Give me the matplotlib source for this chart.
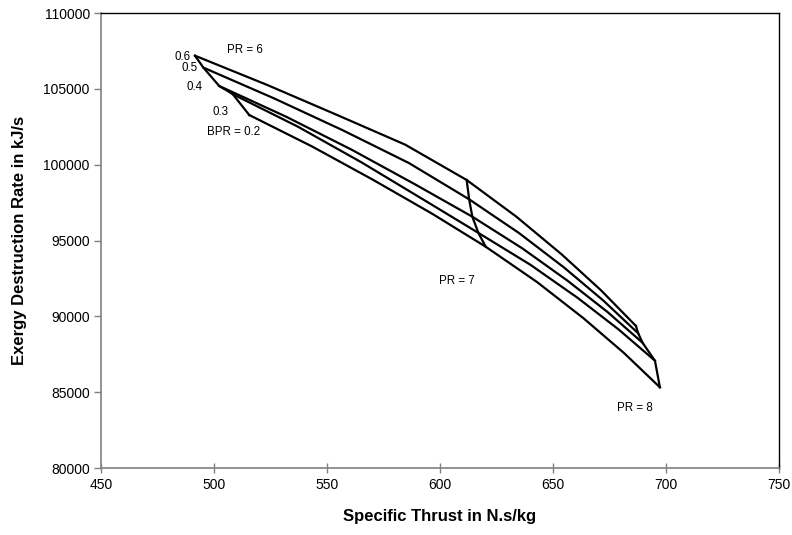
import matplotlib
matplotlib.use("Agg")
import matplotlib.pyplot as plt

plt.rcParams['font.family'] = ['Liberation Sans', 'DejaVu Sans']

# Bypass ratio curves, each running over PR = 6 ... 8 in steps of 0.25
bpr_labels = ["0.2", "0.3", "0.4", "0.5", "0.6"]
pr_values = [6, 6.25, 6.5, 6.75, 7, 7.25, 7.5, 7.75, 8]

thrust = {
    "0.2": [515.6, 543.4, 570.4, 596.6, 620.2, 642.9, 663.5, 681.4, 697.3],
    "0.3": [508.3, 537.2, 565.3, 592.4, 617.0, 640.0, 660.8, 679.0, 695.1],
    "0.4": [502.3, 532.1, 561.0, 589.0, 614.3, 636.4, 656.5, 674.1, 689.6],
    "0.5": [495.3, 526.6, 556.9, 586.3, 612.9, 634.9, 654.9, 672.3, 687.7],
    "0.6": [491.6, 523.6, 554.6, 584.6, 611.8, 633.8, 653.8, 671.3, 686.7],
}
exergy = {
    "0.2": [103275, 101200, 99000, 96760, 94593, 92266, 89874, 87584, 85322],
    "0.3": [104650, 102500, 100150, 97720, 95500, 93400, 91230, 89140, 87077],
    "0.4": [105190, 103150, 100980, 98700, 96570, 94485, 92342, 90290, 88263],
    "0.5": [106400, 104370, 102274, 100104, 97717, 95499, 93219, 91036, 88880],
    "0.6": [107185, 105253, 103268, 101320, 98990, 96570, 94090, 91710, 89364],
}

# Text annotations (label, x, y)
annotations = [
    ("0.6", 486.1, 107080),
    ("0.5", 489.4, 106354),
    ("0.4", 491.6, 105141),
    ("0.3", 503.1, 103453),
    ("BPR = 0.2", 508.5, 102175),
    ("PR = 6", 513.7, 107560),
    ("PR = 7", 607.5, 92300),
    ("PR = 8", 686.3, 83935),
]

fig = plt.figure(figsize=(7.92, 5.35), dpi=100)
ax = fig.add_axes([0.1275, 0.1252, 0.8561, 0.8505])

lw = 1.6
for b in bpr_labels:
    ax.plot(thrust[b], exergy[b], color="black", lw=lw, solid_joinstyle="round")

# Constant pressure-ratio lines across the bypass ratios
for i, pr in enumerate(pr_values):
    if pr in (6, 7, 8):
        xs = [thrust[b][i] for b in bpr_labels]
        ys = [exergy[b][i] for b in bpr_labels]
        ax.plot(xs, ys, color="black", lw=lw, solid_joinstyle="round")

for txt, x, y in annotations:
    ax.text(x, y, txt, ha="center", va="center", fontsize=8.3)

ax.set_xlim(450, 750)
ax.set_ylim(80000, 110000)
ax.set_xticks(range(450, 751, 50))
ax.set_yticks(range(80000, 110001, 5000))
ax.tick_params(axis="x", direction="inout", length=7, width=1, color="#808080",
               labelsize=10, pad=4)
ax.tick_params(axis="y", direction="out", length=5, width=1, color="#808080",
               labelsize=10, pad=3)

for side in ("left", "bottom"):
    ax.spines[side].set_color("#808080")
    ax.spines[side].set_linewidth(1.2)
for side in ("top", "right"):
    ax.spines[side].set_color("black")
    ax.spines[side].set_linewidth(1.0)

ax.set_xlabel("Specific Thrust in N.s/kg", fontsize=12, fontweight="bold", labelpad=12)
ax.set_ylabel("Exergy Destruction Rate in kJ/s", fontsize=12, fontweight="bold", labelpad=12)

fig.savefig("out.png", dpi=100)
